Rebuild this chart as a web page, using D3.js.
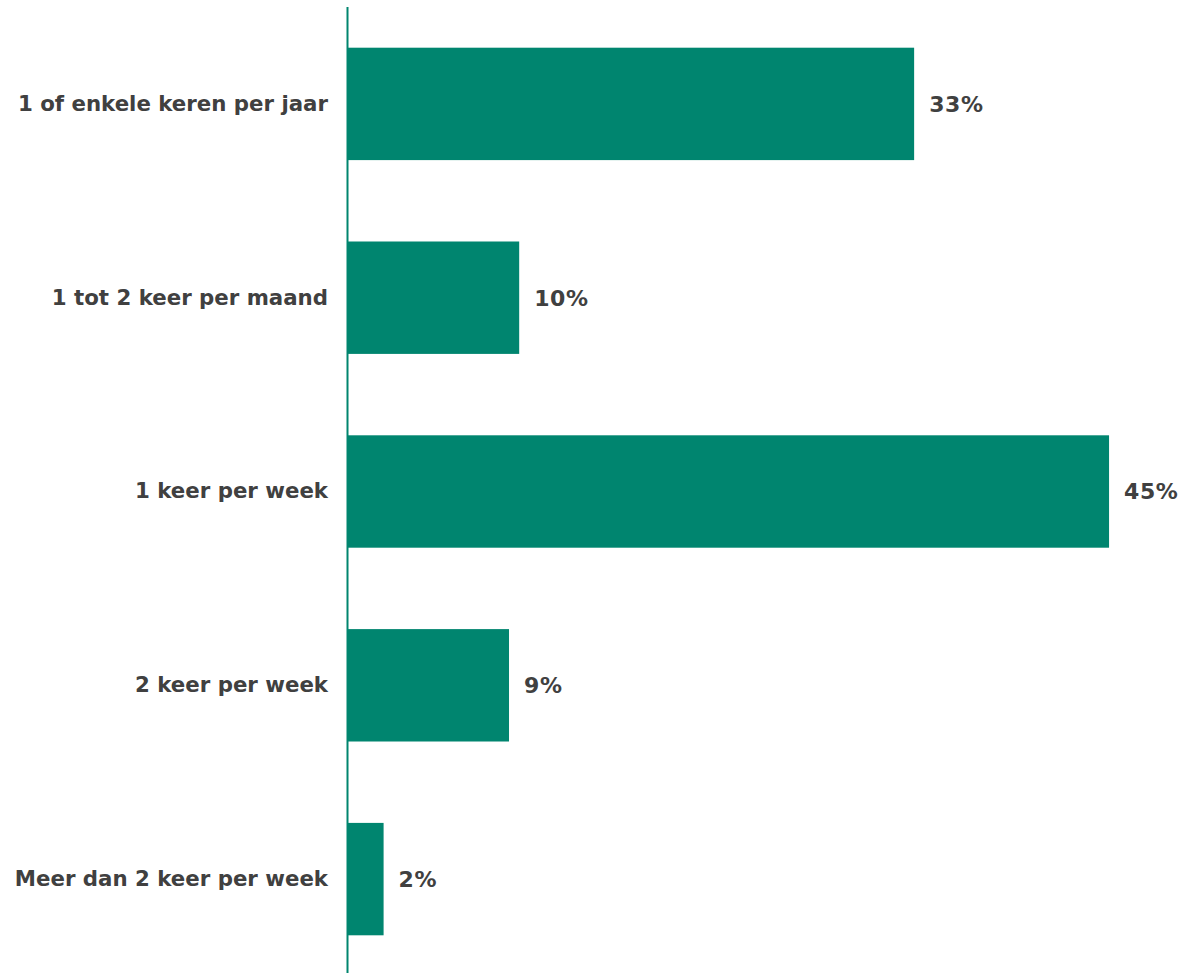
<!DOCTYPE html>
<html>
<head>
<meta charset="utf-8">
<script src="https://cdn.jsdelivr.net/npm/d3@7"></script>
<style>
  html, body { margin: 0; padding: 0; background: #ffffff; }
  svg { display: block; }
</style>
</head>
<body>
<script>
const categories = [
  "1 of enkele keren per jaar",
  "1 tot 2 keer per maand",
  "1 keer per week",
  "2 keer per week",
  "Meer dan 2 keer per week"
];
const values = [33.4, 10.1, 44.9, 9.5, 2.1];
const valueLabels = ["33%", "10%", "45%", "9%", "2%"];

const W = 1185, H = 973;
const barColor = "#00856F";
const textColor = "#404040";
const font = "'DejaVu Sans', Verdana, sans-serif";

const svg = d3.select("body").append("svg").attr("width", W).attr("height", H);

const x = d3.scaleLinear().domain([0, 50]).range([348, 348 + 847.5]);
const y = d3.scaleBand().domain(categories).range([7, 976]).paddingInner(0.42).paddingOuter(0.21);

const data = categories.map((c, i) => ({ c, v: values[i], l: valueLabels[i] }));

svg.selectAll("rect.bar").data(data).enter().append("rect")
  .attr("class", "bar")
  .attr("x", x(0))
  .attr("y", d => y(d.c))
  .attr("width", d => x(d.v) - x(0))
  .attr("height", y.bandwidth())
  .attr("fill", barColor);

svg.selectAll("text.val").data(data).enter().append("text")
  .attr("class", "val")
  .attr("x", d => x(d.v) + 15)
  .attr("y", d => y(d.c) + y.bandwidth() / 2)
  .attr("dy", "0.36em")
  .attr("fill", textColor)
  .style("font-family", font)
  .style("font-weight", "bold")
  .style("font-size", "22px")
  .style("letter-spacing", "0.6px")
  .text(d => d.l);

const yAxis = d3.axisLeft(y).tickSize(0).tickPadding(20);
const g = svg.append("g").attr("transform", `translate(${x(0)},0)`).call(yAxis);
g.select(".domain").remove();
g.selectAll("text")
  .attr("fill", textColor)
  .style("font-family", font)
  .style("font-weight", "bold")
  .style("font-size", "21.3px");

svg.append("line")
  .attr("x1", 347.5).attr("x2", 347.5)
  .attr("y1", 7).attr("y2", H)
  .attr("stroke", barColor)
  .attr("stroke-width", 2);
</script>
</body>
</html>
